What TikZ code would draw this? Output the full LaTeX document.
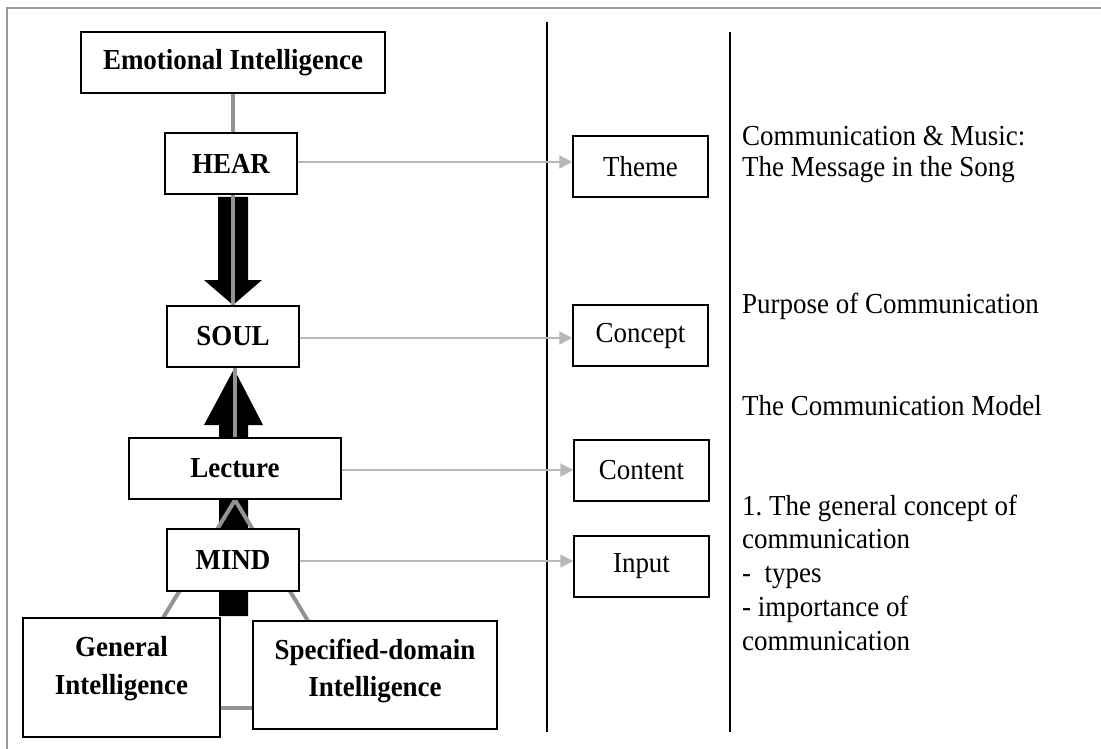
\documentclass[tikz,border=0pt]{standalone}
\usepackage{fontspec}
\setmainfont{Liberation Serif}[FakeStretch=0.93]
\usetikzlibrary{arrows.meta}
\definecolor{framegray}{HTML}{9A9A9A}
\definecolor{linkgray}{HTML}{939393}
\definecolor{arrowgray}{HTML}{B8B8B8}
\begin{document}
\begin{tikzpicture}[x=1pt,y=-1pt,
  every node/.style={font=\fontsize{29}{33}\selectfont},
  box/.style={draw=black,line width=1.5pt,fill=white,inner sep=0pt},
  bbox/.style={box,font=\fontsize{29}{33}\selectfont\bfseries},
  plain/.style={inner sep=0pt,anchor=base west,align=left},
  link/.style={draw=linkgray,line width=4pt},
  thin/.style={draw=arrowgray,line width=2pt,-{Triangle[length=13pt,width=13pt]}},
  divider/.style={draw=black,line width=2pt},
  bigarrow/.style={fill=black}]
\useasboundingbox (0,0) rectangle (1101,749);
\fill[white] (0,0) rectangle (1101,749);
% frame
\draw[framegray,line width=2pt] (7,749) -- (7,8) -- (1101,8);
% dividers
\coordinate (d1t) at (547,22);
\coordinate (d1b) at (547,732);
\coordinate (d2t) at (730,32);
\coordinate (d2b) at (730,732);
\draw[divider] (d1t) -- (d1b);
\draw[divider] (d2t) -- (d2b);
% big black arrows
\fill[bigarrow] (218,197) -- (248,197) -- (248,280) -- (262,280) -- (233,305) -- (204,280) -- (218,280) -- cycle;
\fill[bigarrow] (219,616) -- (248,616) -- (248,425) -- (263,425) -- (234,369) -- (204,425) -- (219,425) -- cycle;
% gray links (drawn behind the boxes)
\coordinate (ei0) at (233,62.5);
\coordinate (hear0) at (231,163.5);
\coordinate (soul0) at (233,336.5);
\coordinate (lect0) at (235,468.5);
\coordinate (mind0) at (233,560);
\coordinate (gi0) at (121.5,677.5);
\coordinate (sdi0) at (375,675);
\draw[link] (233,93) -- (233,133);
\draw[link] (233,194) -- (233,306);
\draw[link] (235,367) -- (235,438);
\draw[link] (235,500) -- (163,618);
\draw[link] (235,500) -- (308,621);
\draw[link] (220,708) -- (253,708);
% boxes
\node[bbox,minimum width=304pt,minimum height=61pt] (ei) at (ei0) {Emotional Intelligence};
\node[bbox,minimum width=132pt,minimum height=61pt] (hear) at (hear0) {HEAR};
\node[bbox,minimum width=132pt,minimum height=61pt] (soul) at (soul0) {SOUL};
\node[bbox,minimum width=212pt,minimum height=61pt] (lecture) at (lect0) {Lecture};
\node[bbox,minimum width=132pt,minimum height=62pt] (mind) at (mind0) {MIND};
\node[box,minimum width=197pt,minimum height=119pt] (gi) at (gi0) {};
\node[box,minimum width=244pt,minimum height=108pt] (sdi) at (sdi0) {};
\node[inner sep=0pt,align=center,font=\fontsize{29}{38}\selectfont\bfseries] (gitext) at (121.5,669) {General\\Intelligence};
\node[inner sep=0pt,align=center,font=\fontsize{29}{37}\selectfont\bfseries] (sditext) at (375,671) {Specified-domain\\Intelligence};
% right boxes
\node[box,minimum width=135pt,minimum height=61pt] (theme) at (640.5,166.5) {Theme};
\node[box,minimum width=135pt,minimum height=61pt] (concept) at (640.5,335.5) {Concept};
\node[box,minimum width=135pt,minimum height=61pt] (content) at (641.5,470.5) {Content};
\node[box,minimum width=135pt,minimum height=61pt] (input) at (641.5,566.5) {Input};
% thin arrows
\draw[thin] (hear.east) ++(0,-1.5) -- (theme.west |- 0,162);
\draw[thin] (soul.east) ++(0,1.5) -- (concept.west |- 0,338);
\draw[thin] (lecture.east) ++(0,1.5) -- (content.west |- 0,470);
\draw[thin] (mind.east) ++(0,1) -- (input.west |- 0,561);
% right texts (base = last line)
\node[plain,font=\fontsize{29}{32}\selectfont] (t1) at (742,177) {Communication \& Music:\\The Message in the Song};
\node[plain] (t2) at (742,313) {Purpose of Communication};
\node[plain] (t3) at (742,415) {The Communication Model};
\node[plain,font=\fontsize{29}{33.7}\selectfont] (t4) at (742,650) {1.\ The general concept of\\communication\\-\ \ types\\- importance of\\communication};
\end{tikzpicture}
\end{document}
